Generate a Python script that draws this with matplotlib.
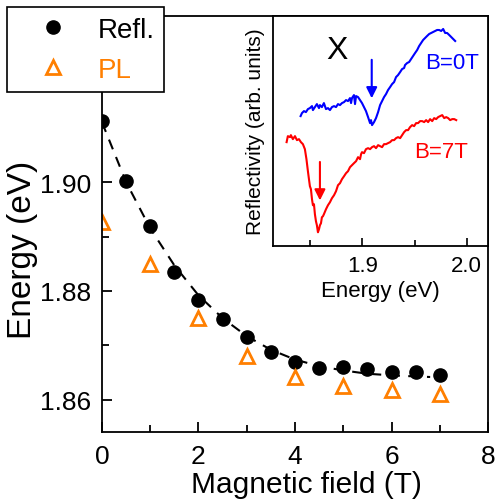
import matplotlib.pyplot as plt

plt.rcParams['font.family'] = ['Liberation Sans', 'DejaVu Sans']

# main panel data
field_refl = [0, 0.5, 1, 1.5, 2, 2.5, 3, 3.5, 4, 4.5, 5, 5.5, 6, 6.5, 7]
energy_refl = [1.9112, 1.9002, 1.8919, 1.8835, 1.8783, 1.8749, 1.8715, 1.8688,
               1.8669, 1.8658, 1.8661, 1.8656, 1.8651, 1.8651, 1.8646]
field_pl = [0, 1, 2, 3, 4, 5, 6, 7]
energy_pl = [1.8927, 1.8850, 1.8750, 1.8680, 1.8642, 1.8626, 1.8619, 1.8611]
field_fit = [0, 0.5, 1, 1.5, 2, 2.5, 3, 3.5, 4, 4.5, 5, 5.5, 6, 6.5, 6.8]
energy_fit = [1.9110, 1.9000, 1.8915, 1.8847, 1.8792, 1.8750, 1.8717, 1.8692,
              1.8674, 1.8662, 1.8654, 1.8648, 1.8645, 1.8643, 1.8642]

# inset spectra
e_b0 = [1.8409, 1.8422, 1.8441, 1.8460, 1.8479, 1.8498, 1.8518, 1.8527, 1.8546, 1.8565,
        1.8585, 1.8594, 1.8613, 1.8632, 1.8652, 1.8671, 1.8690, 1.8709, 1.8729, 1.8748,
        1.8767, 1.8786, 1.8805, 1.8825, 1.8844, 1.8863, 1.8882, 1.8892, 1.8901, 1.8920,
        1.8930, 1.8940, 1.8959, 1.8978, 1.8997, 1.9016, 1.9035, 1.9055, 1.9074, 1.9083,
        1.9093, 1.9112, 1.9131, 1.9141, 1.9151, 1.9170, 1.9189, 1.9208, 1.9227, 1.9246,
        1.9266, 1.9285, 1.9304, 1.9323, 1.9342, 1.9362, 1.9381, 1.9400, 1.9409, 1.9429,
        1.9448, 1.9467, 1.9486, 1.9505, 1.9525, 1.9544, 1.9563, 1.9582, 1.9601, 1.9620,
        1.9640, 1.9659, 1.9678, 1.9697, 1.9716, 1.9736, 1.9755, 1.9774, 1.9793, 1.9812,
        1.9832, 1.9851, 1.9870, 1.9889]
r_b0 = [1.33, 1.36, 1.38, 1.37, 1.40, 1.41, 1.43, 1.39, 1.42, 1.45,
        1.41, 1.44, 1.42, 1.46, 1.40, 1.41, 1.39, 1.42, 1.43, 1.42,
        1.45, 1.44, 1.46, 1.47, 1.49, 1.48, 1.51, 1.46, 1.51, 1.54,
        1.45, 1.53, 1.52, 1.49, 1.46, 1.42, 1.38, 1.32, 1.26, 1.29,
        1.24, 1.27, 1.31, 1.34, 1.37, 1.44, 1.48, 1.52, 1.55, 1.59,
        1.62, 1.65, 1.67, 1.72, 1.74, 1.77, 1.80, 1.81, 1.84, 1.86,
        1.87, 1.90, 1.93, 1.96, 1.99, 2.03, 2.06, 2.09, 2.11, 2.13,
        2.15, 2.16, 2.17, 2.18, 2.19, 2.19, 2.18, 2.20, 2.16, 2.16,
        2.14, 2.12, 2.10, 2.08]
e_b7 = [1.8275, 1.8287, 1.8307, 1.8316, 1.8335, 1.8355, 1.8374, 1.8393, 1.8412, 1.8431,
        1.8450, 1.8465, 1.8479, 1.8489, 1.8498, 1.8508, 1.8518, 1.8527, 1.8537, 1.8546,
        1.8556, 1.8565, 1.8575, 1.8585, 1.8594, 1.8604, 1.8613, 1.8623, 1.8632, 1.8652,
        1.8671, 1.8690, 1.8709, 1.8729, 1.8748, 1.8767, 1.8786, 1.8805, 1.8825, 1.8844,
        1.8863, 1.8882, 1.8901, 1.8920, 1.8940, 1.8959, 1.8978, 1.8988, 1.8997, 1.9016,
        1.9035, 1.9055, 1.9074, 1.9093, 1.9112, 1.9131, 1.9151, 1.9170, 1.9189, 1.9208,
        1.9227, 1.9246, 1.9266, 1.9285, 1.9304, 1.9323, 1.9342, 1.9362, 1.9381, 1.9400,
        1.9419, 1.9438, 1.9457, 1.9477, 1.9496, 1.9515, 1.9534, 1.9553, 1.9573, 1.9592,
        1.9611, 1.9630, 1.9649, 1.9669, 1.9688, 1.9707, 1.9726, 1.9745, 1.9765, 1.9784,
        1.9803, 1.9822, 1.9841, 1.9861, 1.9880, 1.9899]
r_b7 = [1.07, 1.13, 1.12, 1.14, 1.10, 1.13, 1.09, 1.10, 1.07, 1.05,
        1.00, 0.90, 0.78, 0.70, 0.63, 0.60, 0.50, 0.44, 0.45, 0.35,
        0.28, 0.24, 0.17, 0.20, 0.24, 0.26, 0.32, 0.33, 0.35, 0.40,
        0.44, 0.47, 0.51, 0.54, 0.58, 0.64, 0.66, 0.70, 0.73, 0.76,
        0.78, 0.82, 0.84, 0.86, 0.88, 0.92, 0.90, 0.95, 0.97, 0.96,
        1.00, 1.01, 1.00, 1.02, 1.03, 1.01, 1.04, 1.03, 1.02, 1.05,
        1.05, 1.06, 1.07, 1.09, 1.09, 1.11, 1.12, 1.11, 1.14, 1.17,
        1.19, 1.19, 1.22, 1.24, 1.23, 1.26, 1.26, 1.28, 1.28, 1.27,
        1.29, 1.27, 1.30, 1.28, 1.31, 1.30, 1.32, 1.33, 1.34, 1.31,
        1.32, 1.31, 1.29, 1.30, 1.30, 1.29]
dip_b0 = 1.909
dip_b7 = 1.8594

orange = '#FF7F00'

fig = plt.figure(figsize=(4.95, 5.02), dpi=100)
ax = fig.add_axes([0.206, 0.1375, 0.780, 0.8285])

ax.plot(field_fit, energy_fit, '--', color='black', lw=1.5, dashes=(5, 4))
ax.plot(field_refl, energy_refl, 'o', color='black', ms=9.5, label='Refl.')
ax.plot(field_pl, energy_pl, '^', mfc='none', mec=orange, mew=2, ms=10, label='PL')

ax.set_xlim(0, 8)
ax.set_ylim(1.8541, 1.9305)
ax.set_xticks([0, 2, 4, 6, 8])
ax.set_xticks([1, 3, 5, 7], minor=True)
ax.set_yticks([1.86, 1.88, 1.90])
ax.set_yticks([1.87, 1.89], minor=True)
ax.tick_params(which='both', direction='in', labelsize=19, width=1.3, pad=8)
ax.tick_params(axis='x', which='both', pad=9)
ax.tick_params(which='major', length=7)
ax.tick_params(which='minor', length=5)
for s in ax.spines.values():
    s.set_linewidth(1.3)
ax.set_xlabel('Magnetic field (T)', fontsize=21.5)
ax.set_ylabel('Energy (eV)', fontsize=24)
ax.xaxis.set_label_coords(0.53, -0.092)
ax.yaxis.set_label_coords(-0.165, 0.44)

leg = fig.legend(loc='upper left', bbox_to_anchor=(7 / 495, 1 - 8 / 502),
                 borderaxespad=0, fontsize=20, frameon=True, fancybox=False,
                 edgecolor='black', labelcolor=['black', orange],
                 handlelength=2.6, handletextpad=0.3, borderpad=0.35,
                 labelspacing=0.5, framealpha=1)
leg.get_frame().set_linewidth(1.2)

# inset
ins = fig.add_axes([0.552, 0.5074, 0.434, 0.4588])
ins.plot(e_b0, r_b0, color='blue', lw=1.5)
ins.plot(e_b7, r_b7, color='red', lw=1.5)
ins.annotate('', xy=(dip_b0, 1.48), xytext=(dip_b0, 1.92),
             arrowprops=dict(arrowstyle='-|>', color='blue', lw=1.5, mutation_scale=16))
ins.annotate('', xy=(dip_b7, 0.46), xytext=(dip_b7, 0.90),
             arrowprops=dict(arrowstyle='-|>', color='red', lw=1.5, mutation_scale=16))
ins.text(1.8757, 1.99, 'X', fontsize=23, ha='center', va='center')
ins.text(1.960, 1.87, 'B=0T', color='blue', fontsize=16, ha='left', va='center')
ins.text(1.950, 0.98, 'B=7T', color='red', fontsize=16, ha='left', va='center')

ins.set_xlim(1.8147, 2.0204)
ins.set_ylim(0.03, 2.33)
ins.set_xticks([1.9, 2.0])
ins.set_xticklabels(['1.9', '2.0'])
ins.set_xticks([1.85, 1.95], minor=True)
ins.set_yticks([])
ins.tick_params(which='both', direction='in', labelsize=16, width=1.2, pad=6)
ins.tick_params(which='major', length=6)
ins.tick_params(which='minor', length=4)
for s in ins.spines.values():
    s.set_linewidth(1.3)
ins.set_xlabel('Energy (eV)', fontsize=16, labelpad=3)
ins.set_ylabel('Reflectivity (arb. units)', fontsize=15, labelpad=6)

fig.savefig('out.png', dpi=100)
